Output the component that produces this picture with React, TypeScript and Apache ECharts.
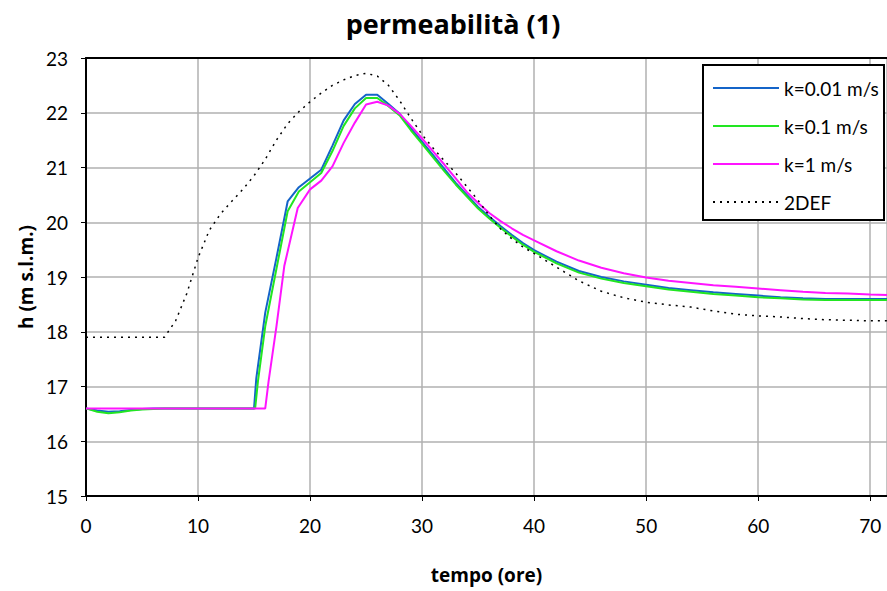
import React, { useEffect, useRef } from "react";
import * as echarts from "echarts";

// Hydraulic head over time for three permeability values, plus the 2DEF reference run.
const tK001 = [0, 1, 2, 3, 4, 5, 6, 7, 10, 15, 15.2, 16, 17, 18, 19, 20, 21, 22, 23, 24, 25, 26, 27, 28, 29, 30, 31, 32, 33, 34, 35, 36, 37, 38, 39, 40, 42, 44, 46, 48, 50, 52, 54, 56, 58, 60, 62, 64, 66, 68, 70, 71.5];
const hK001 = [16.6, 16.56, 16.54, 16.55, 16.57, 16.59, 16.6, 16.6, 16.6, 16.6, 17.15, 18.35, 19.35, 20.38, 20.64, 20.8, 20.96, 21.4, 21.86, 22.16, 22.33, 22.33, 22.16, 21.98, 21.72, 21.47, 21.22, 20.97, 20.72, 20.5, 20.28, 20.1, 19.93, 19.77, 19.62, 19.49, 19.28, 19.11, 19.0, 18.92, 18.86, 18.8, 18.76, 18.72, 18.69, 18.66, 18.63, 18.61, 18.6, 18.6, 18.6, 18.6];

const tK01 = [0, 1, 2, 3, 4, 5, 6, 7, 10, 15.1, 15.35, 16, 17, 18, 19, 20, 21, 22, 23, 24, 25, 26, 27, 28, 29, 30, 31, 32, 33, 34, 35, 36, 37, 38, 39, 40, 42, 44, 46, 48, 50, 52, 54, 56, 58, 60, 62, 64, 66, 68, 70, 71.5];
const hK01 = [16.6, 16.54, 16.51, 16.53, 16.56, 16.58, 16.59, 16.6, 16.6, 16.6, 17.1, 18.1, 19.15, 20.2, 20.56, 20.73, 20.9, 21.3, 21.76, 22.08, 22.27, 22.27, 22.12, 21.95, 21.68, 21.43, 21.18, 20.93, 20.69, 20.47, 20.25, 20.07, 19.9, 19.74, 19.59, 19.46, 19.25, 19.08, 18.97, 18.89, 18.83, 18.77, 18.73, 18.69, 18.66, 18.63, 18.61, 18.59, 18.58, 18.58, 18.58, 18.58];

const tK1 = [0, 5, 10, 16, 16.3, 17, 17.7, 18.9, 20, 21, 22, 23, 24, 25, 26, 27, 28, 29, 30, 31, 32, 33, 34, 35, 36, 37, 38, 39, 40, 42, 44, 46, 48, 50, 52, 54, 56, 58, 60, 62, 64, 66, 68, 70, 71.5];
const hK1 = [16.6, 16.6, 16.6, 16.6, 17.1, 18.1, 19.2, 20.26, 20.6, 20.76, 21.02, 21.45, 21.82, 22.15, 22.2, 22.13, 21.98, 21.76, 21.53, 21.29, 21.05, 20.8, 20.55, 20.35, 20.17, 20.02, 19.89, 19.77, 19.67, 19.47, 19.3, 19.17, 19.07, 18.99, 18.93, 18.89, 18.85, 18.82, 18.79, 18.76, 18.73, 18.71, 18.7, 18.68, 18.67];

const t2DEF = [0, 7, 8, 9, 10, 11, 12, 13, 14, 15, 16, 17, 18, 19, 20, 21, 22, 23, 24, 25, 26, 27, 28, 29, 30, 31, 32, 33, 34, 35, 36, 37, 38, 39, 40, 42, 44, 46, 48, 50, 52, 54, 56, 58, 60, 62, 64, 66, 68, 70, 71.5];
const h2DEF = [17.9, 17.9, 18.2, 18.7, 19.35, 19.85, 20.15, 20.38, 20.6, 20.85, 21.15, 21.5, 21.8, 22.02, 22.2, 22.36, 22.5, 22.6, 22.68, 22.72, 22.67, 22.5, 22.22, 21.9, 21.6, 21.35, 21.12, 20.9, 20.65, 20.4, 20.12, 19.88, 19.7, 19.55, 19.43, 19.18, 18.93, 18.74, 18.62, 18.54, 18.49, 18.45, 18.38, 18.32, 18.29, 18.27, 18.24, 18.22, 18.21, 18.2, 18.2];

const seriesNames = ["k=0.01 m/s", "k=0.1 m/s", "k=1 m/s", "2DEF"];
const xTicks = { min: 0, max: 71.5, interval: 10 };
const yTicks = { min: 15, max: 23, interval: 1 };

const pairs = (t: number[], h: number[]) => t.map((v, i) => [v, h[i]]);

const FONT = "Lato, 'Open Sans', sans-serif";
const BOLD_FONT = "'Open Sans', Lato, sans-serif";

export default function App() {
  const ref = useRef<HTMLDivElement>(null);

  useEffect(() => {
    if (!ref.current) return;
    const chart = echarts.init(ref.current, null, { renderer: "svg" });
    const lineSeries = (name: string, data: number[][], color: string, extra: any = {}) => ({
      name,
      type: "line",
      data,
      symbol: "none",
      z: 3,
      lineStyle: { color, width: 2, ...extra },
      itemStyle: { color },
    });
    chart.setOption({
      animation: false,
      backgroundColor: "#fff",
      grid: { left: 86, right: 0, top: 58, bottom: 95 },
      graphic: [
        {
          type: "text",
          x: 453,
          y: 23,
          style: {
            text: "permeabilità (1)",
            textAlign: "center",
            textVerticalAlign: "middle",
            font: `bold 27px ${BOLD_FONT}`,
            fill: "#000",
          },
        },
        {
          type: "rect",
          z: 10,
          shape: { x: 703, y: 65, width: 181, height: 155 },
          style: { fill: "#fff", stroke: "#000", lineWidth: 2 },
        },
      ],
      legend: {
        orient: "vertical",
        left: 712,
        top: 78,
        z: 11,
        padding: 0,
        itemWidth: 66,
        itemHeight: 14,
        itemGap: 18,
        itemStyle: { opacity: 0 },
        data: seriesNames,
        textStyle: { fontFamily: FONT, fontSize: 19, lineHeight: 20, color: "#000" },
      },
      xAxis: [
        {
          type: "value",
          ...xTicks,
          name: "tempo (ore)",
          nameLocation: "middle",
          nameGap: 69,
          nameTextStyle: { fontFamily: BOLD_FONT, fontSize: 19, fontWeight: "bold", color: "#000" },
          axisLine: { onZero: false, lineStyle: { color: "#000", width: 2 } },
          axisTick: { show: true, length: 5, lineStyle: { color: "#000" } },
          axisLabel: { fontFamily: FONT, fontSize: 19, color: "#000", margin: 20, showMaxLabel: false },
          splitLine: { show: true, lineStyle: { color: "#b0b0b0", width: 1.5 } },
        },
        {
          type: "value",
          position: "top",
          ...xTicks,
          axisLine: { onZero: false, lineStyle: { color: "#000", width: 2 } },
          axisTick: { show: false },
          axisLabel: { show: false },
          splitLine: { show: false },
        },
      ],
      yAxis: {
        type: "value",
        ...yTicks,
        name: "h (m s.l.m.)",
        nameLocation: "middle",
        nameGap: 51,
        nameTextStyle: { fontFamily: BOLD_FONT, fontSize: 19, fontWeight: "bold", color: "#000" },
        axisLine: { show: true, lineStyle: { color: "#000", width: 2 } },
        axisTick: { show: true, length: 5, lineStyle: { color: "#000" } },
        axisLabel: { fontFamily: FONT, fontSize: 19, color: "#000", margin: 18 },
        splitLine: { show: true, lineStyle: { color: "#b0b0b0", width: 1.5 } },
      },
      series: [
        lineSeries(seriesNames[0], pairs(tK001, hK001), "#1464c8"),
        lineSeries(seriesNames[1], pairs(tK01, hK01), "#22e622"),
        lineSeries(seriesNames[2], pairs(tK1, hK1), "#ff14ff"),
        lineSeries(seriesNames[3], pairs(t2DEF, h2DEF), "#000", { width: 1.5, type: [2, 5] }),
      ],
    });
    return () => chart.dispose();
  }, []);

  return (
    <div
      ref={ref}
      style={{ position: "absolute", left: 0, top: 0, width: 887, height: 591 }}
    />
  );
}
